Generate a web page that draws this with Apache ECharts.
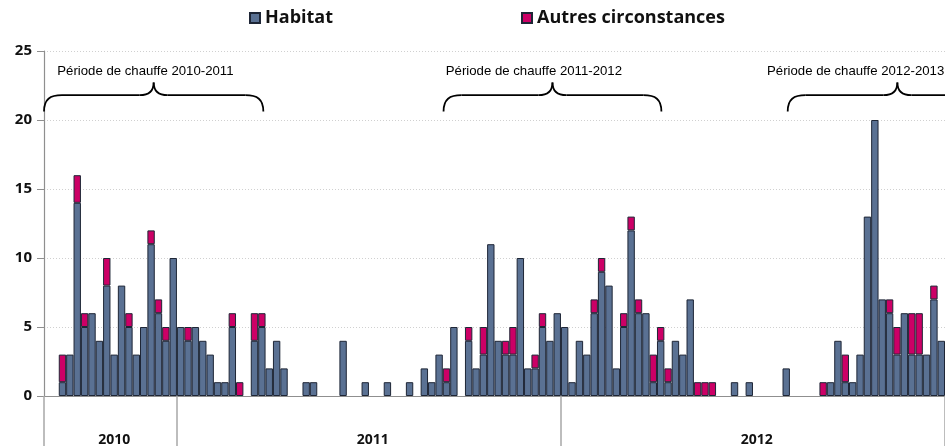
<!DOCTYPE html>
<html><head><meta charset="utf-8">
<script src="https://cdn.jsdelivr.net/npm/echarts@6/dist/echarts.min.js"></script>
<style>html,body{margin:0;padding:0;background:#fff;}#c{width:945px;height:446px;}</style>
</head><body><div id="c"></div>
<script>
// Weekly counts, weeks 35/2010 .. 52/2012
const years = ['2010', '2011', '2012'];
const firstWeek = [35, 1, 1];
const lastWeek = [52, 52, 52];

const habitat = [
  // 2010 (S35-S52)
  0,0,1,3,14,5,6,4,8,3,8,5,3,5,11,6,4,10,
  // 2011
  5,4,5,4,3,1,1,5,0,0, 4,5,2,4,2,0,0,1,1,0, 0,0,4,0,0,1,0,0,1,0,
  0,1,0,2,1,3,1,5,0,4, 2,3,11,4,3,3,10,2,2,5, 4,6,
  // 2012
  5,1,4,3,6,9,8,2,5,12, 6,6,1,4,1,4,3,7,0,0, 0,0,0,1,0,1,0,0,0,0,
  2,0,0,0,0,0,1,4,1,1, 3,13,20,7,6,3,6,3,3,3, 7,4
];
const autres = [
  // 2010
  0,0,2,0,2,1,0,0,2,0,0,1,0,0,1,1,1,0,
  // 2011
  0,1,0,0,0,0,0,1,1,0, 2,1,0,0,0,0,0,0,0,0, 0,0,0,0,0,0,0,0,0,0,
  0,0,0,0,0,0,1,0,0,1, 0,2,0,0,1,2,0,0,1,1, 0,0,
  // 2012
  0,0,0,0,1,1,0,0,1,1, 1,0,2,1,1,0,0,0,1,1, 1,0,0,0,0,0,0,0,0,0,
  0,0,0,0,0,1,0,0,2,0, 0,0,0,0,1,2,0,3,3,0, 1,0
];
const yTicks = [0, 5, 10, 15, 20, 25];

// heating-period annotations (positions in weeks from the axis start)
const periodLabels = ['Période de chauffe 2010-2011', 'Période de chauffe 2011-2012', 'Période de chauffe 2012-2013'];
const periodStart = [0, 54.1, 100.7];
const periodEnd = [29.7, 83.6, 130.4];
const periodTextStart = [1.8, 54.4, 97.9];

// category labels
const categories = [];
const weekNo = [];
const yearMid = [];
years.forEach((y, k) => {
  const start = categories.length;
  for (let w = firstWeek[k]; w <= lastWeek[k]; w++) {
    categories.push(y + '-S' + String(w).padStart(2, '0'));
    weekNo.push(w);
  }
  yearMid.push(start + Math.floor((categories.length - start) / 2));
});

const tickIdx = (i) => i === 0 || weekNo[i] === 1;
const toData = arr => arr.map(v => v === 0 ? '-' : v);

const chart = echarts.init(document.getElementById('c'), null, {renderer: 'canvas'});
const AX = '#8f8f8f';
const legendText = {fontFamily: 'Open Sans', fontWeight: 'bold', fontSize: 18, color: '#111'};
const option = {
  animation: false,
  backgroundColor: '#ffffff',
  grid: {left: 44, right: 0, top: 51, bottom: 50, containLabel: false, outerBoundsMode: 'none'},
  legend: [
    {data: ['Habitat'], left: 249, top: 9, padding: 0, icon: 'rect', itemWidth: 10, itemHeight: 10, itemGap: 0, textStyle: legendText},
    {data: ['Autres circonstances'], left: 521, top: 9, padding: 0, icon: 'rect', itemWidth: 10, itemHeight: 10, textStyle: legendText}
  ],
  xAxis: {
    type: 'category', data: categories, boundaryGap: true,
    axisLine: {show: true, lineStyle: {color: AX, width: 1.2}},
    axisTick: {show: true, length: 50, interval: tickIdx, lineStyle: {color: '#a8a8a8', width: 1.5}},
    axisLabel: {interval: (i) => yearMid.indexOf(i) >= 0, formatter: v => v.slice(0, 4), margin: 37,
      fontFamily: 'Open Sans', fontWeight: 'bold', fontSize: 14, color: '#111'},
    splitLine: {show: false}
  },
  yAxis: {
    type: 'value', min: yTicks[0], max: yTicks[yTicks.length - 1], interval: yTicks[1] - yTicks[0],
    axisLine: {show: true, lineStyle: {color: AX, width: 1.2}},
    axisTick: {show: true, length: 7, lineStyle: {color: AX}},
    axisLabel: {margin: 12, fontFamily: 'Open Sans', fontWeight: 'bold', fontSize: 15, color: '#111'},
    splitLine: {show: true, lineStyle: {color: '#d0d0d0', type: [1, 2], width: 1}}
  },
  series: [
    {name: 'Habitat', type: 'bar', stack: 'total', data: toData(habitat), barCategoryGap: 0,
     itemStyle: {color: '#5a7193', borderColor: '#1e2636', borderWidth: 1}},
    {name: 'Autres circonstances', type: 'bar', stack: 'total', data: toData(autres), barCategoryGap: 0,
     itemStyle: {color: '#cc0066', borderColor: '#1e2636', borderWidth: 1}}
  ]
};
chart.setOption(option);

// braces and period labels, positioned through the axes
const p0 = chart.convertToPixel({xAxisIndex: 0}, 0);
const p1 = chart.convertToPixel({xAxisIndex: 0}, 1);
const bw = p1 - p0;
const xLeft = p0 - bw / 2;
const X = p => xLeft + p * bw;
const Y = v => chart.convertToPixel({yAxisIndex: 0}, v);
const yf = Y(20.62), ym = Y(21.8), yc = Y(22.72), yt = Y(23.5);
const lineStyle = {fill: null, stroke: '#000', lineWidth: 1.8};
const bez = (x1, y1, cx1, cy1, cx2, cy2, x2, y2) => ({type: 'bezierCurve', z: 10,
  shape: {x1, y1, x2, y2, cpx1: cx1, cpy1: cy1, cpx2: cx2, cpy2: cy2}, style: lineStyle});
const seg = (x1, y1, x2, y2) => ({type: 'line', z: 10, shape: {x1, y1, x2, y2}, style: lineStyle});
const graphics = [];
periodLabels.forEach((lab, k) => {
  const a = X(periodStart[k]), b = X(periodEnd[k]), c = (a + b) / 2;
  graphics.push(
    bez(a, yf, a, ym + 4, a + 6, ym, a + 18, ym),
    seg(a + 18, ym, c - 14, ym),
    bez(c - 14, ym, c - 6, ym, c, ym - 3, c, yc),
    bez(c, yc, c, ym - 3, c + 6, ym, c + 14, ym),
    seg(c + 14, ym, b - 18, ym),
    bez(b - 18, ym, b - 6, ym, b, ym + 4, b, yf)
  );
  graphics.push({type: 'text', x: X(periodTextStart[k]), y: yt, z: 10,
    style: {text: lab, font: '13.2px "Liberation Sans", Arial, sans-serif', fill: '#000', verticalAlign: 'middle', align: 'left'}});
});
chart.setOption({graphic: graphics});
</script>
</body></html>
